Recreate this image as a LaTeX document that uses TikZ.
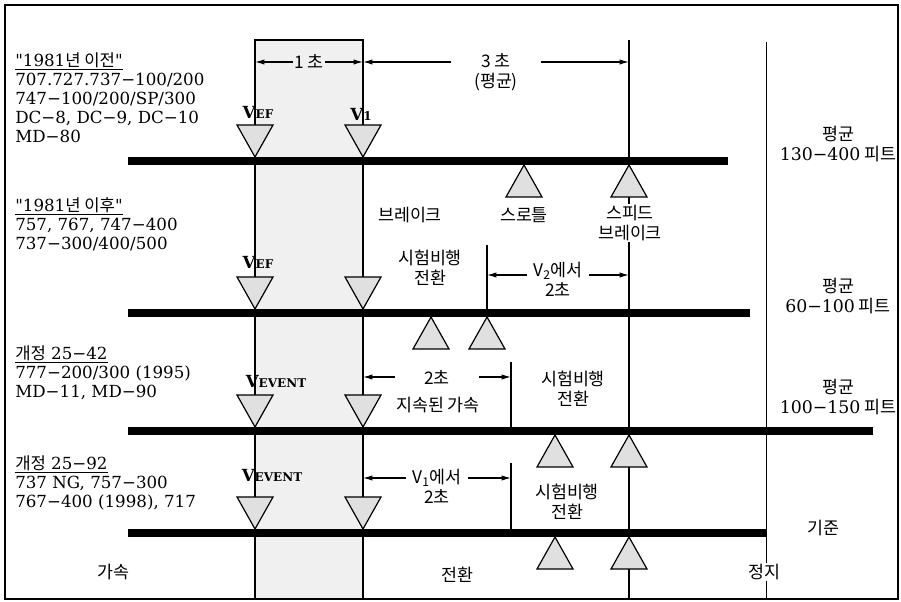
\documentclass[tikz,border=0pt]{standalone}
\usepackage{fontspec}
\setmainfont{DejaVu Serif}
\newfontfamily\kr{Noto Sans CJK KR}
\usetikzlibrary{arrows.meta}

\tikzset{
  runway/.style={fill=black},
  vtri/.style={draw, line width=0.9pt, fill=black!12},
  dimline/.style={{Latex[length=7pt,width=4pt]}-{Latex[length=7pt,width=4pt]}, line width=0.9pt},
  lbl/.style={font=\kr\fontsize{13}{15}\selectfont, align=center, inner sep=1pt},
  vlbl/.style={font=\fontsize{12.5}{14}\selectfont\bfseries, inner sep=0pt},
  blk/.style={font=\fontsize{12.5}{14.4}\selectfont, align=left, anchor=north west, inner sep=0pt},
}
\newcommand{\smalltag}[1]{{\fontsize{9}{9}\selectfont #1}}

\begin{document}
\begin{tikzpicture}[x=0.75pt,y=-0.75pt]
  \useasboundingbox (0,0) rectangle (901,602);
  \draw[line width=1.2pt] (5,5) rectangle (898,599);
  % transition column
  \filldraw[fill=black!6, line width=0.9pt] (255,40) rectangle (363,599);
  % vertical lines
  \coordinate (spdtop) at (629,40); \coordinate (spdbot) at (629,599);
  \coordinate (stoptop) at (766,42); \coordinate (stopbot) at (766,599);
  \coordinate (swA) at (487,245); \coordinate (swB) at (487,313);
  \coordinate (swC) at (511,362); \coordinate (swD) at (511,431);
  \coordinate (swE) at (511,463); \coordinate (swF) at (511,533);
  \draw[line width=0.9pt] (spdtop) -- (spdbot);
  \draw[line width=0.6pt] (stoptop) -- (stopbot);
  \draw[line width=0.9pt] (swA) -- (swB) (swC) -- (swD) (swE) -- (swF);
  % runways
  \foreach \ry/\re in {161/728, 313/750, 431/873, 533/766}
    \fill[runway] (128,\ry-4) rectangle (\re,\ry+4);
  % speed marks
  \foreach \ry in {161,313,431,533}
    \foreach \x in {255,363}
      \filldraw[vtri] (\x,\ry-4) -- ++(-18,-32) -- ++(36,0) -- cycle;
  \foreach \x/\ry in {524/161, 629/161, 431/313, 487/313, 555/431, 629/431, 555/533, 629/533}
    \filldraw[vtri] (\x,\ry+4) -- ++(-18,32) -- ++(36,0) -- cycle;

  % aircraft groups
  \node[blk] (pre81) at (15,52) {\underline{\textquotedbl 1981{\kr 년 이전}\textquotedbl}\\707.727.737−100/200\\747−100/200/SP/300\\DC−8, DC−9, DC−10\\MD−80};
  \node[blk] (post81) at (15,197) {\underline{\textquotedbl 1981{\kr 년 이후}\textquotedbl}\\757, 767, 747−400\\737−300/400/500};
  \node[blk] (am42) at (15,345) {\underline{{\kr 개정} 25−42}\\777−200/300 (1995)\\MD−11, MD−90};
  \node[blk] (am92) at (15,455) {\underline{{\kr 개정} 25−92}\\737 NG, 757−300\\767−400 (1998), 717};

  % speed labels
  \node[vlbl] (vef1) at (258,112) {V\smalltag{EF}};
  \node[vlbl] (v1a) at (361,114) {V\smalltag{1}};
  \node[vlbl] (vef2) at (258,262) {V\smalltag{EF}};
  \node[vlbl] (vev3) at (276,381) {V\smalltag{EVENT}};
  \node[vlbl] (vev4) at (272,475) {V\smalltag{EVENT}};

  % time spans
  \coordinate (t1) at (255,62); \coordinate (t2) at (363,62); \coordinate (t3) at (629,62);
  \draw[dimline] (t1) -- node[lbl, fill=black!6] (one) {1 초} (t2);
  \draw[dimline] (t2) -- node[lbl, fill=white, minimum width=68pt, yshift=-8pt] (three) {3 초\\(평균)} (t3);
  \coordinate (u1) at (487,275); \coordinate (u2) at (629,275);
  \draw[dimline] (u1) -- node[lbl, fill=white, inner xsep=5pt, yshift=-3pt] (fromv2) {V\textsubscript{2}에서\\2초} (u2);
  \coordinate (w1) at (363,377); \coordinate (w2) at (511,377);
  \draw[dimline] (w1) -- node[lbl, fill=white, inner xsep=22pt] (two) {2초} (w2);
  \coordinate (z1) at (363,478); \coordinate (z2) at (511,478);
  \draw[dimline] (z1) -- node[lbl, fill=white, inner xsep=5pt, yshift=-6pt] (fromv1) {V\textsubscript{1}에서\\2초} (z2);

  % event labels
  \node[lbl] (brake) at (410,215) {브레이크};
  \node[lbl] (thr) at (524,215) {스로틀};
  \node[lbl, fill=white] (spdbrk) at (630,223) {스피드\\브레이크};
  \node[lbl] (ft2) at (430,268) {시험비행\\전환};
  \node[lbl] (sust) at (438,405) {지속된 가속};
  \node[lbl] (ft3) at (573,389) {시험비행\\전환};
  \node[lbl] (ft4) at (567,502) {시험비행\\전환};

  % phases
  \node[lbl] (accel) at (113,572) {가속};
  \node[lbl] (trans) at (457,575) {전환};
  \node[lbl, fill=white] (stop) at (764,572) {정지};
  \node[lbl] (ref) at (823,528) {기준};

  % heights
  \node[lbl] (h1) at (838,144) {평균\\{\rmfamily 130−400} 피트};
  \node[lbl] (h2) at (838,296) {평균\\{\rmfamily 60−100} 피트};
  \node[lbl] (h3) at (838,397) {평균\\{\rmfamily 100−150} 피트};
\end{tikzpicture}
\end{document}
